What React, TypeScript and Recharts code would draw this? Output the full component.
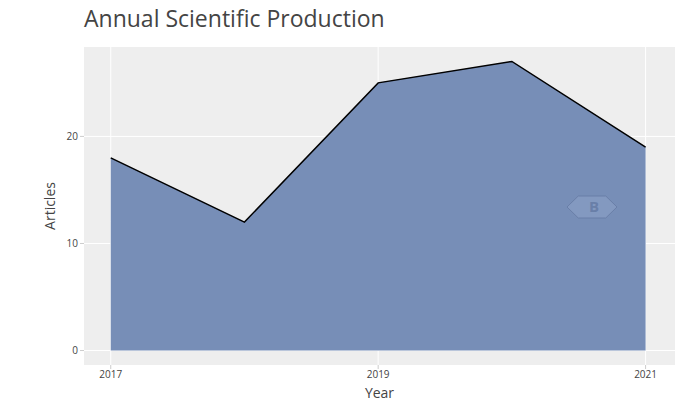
import React from 'react';
import { AreaChart, Area, XAxis, YAxis, CartesianGrid, Label } from 'recharts';

const years = [2017, 2018, 2019, 2020, 2021];
const articles = [18, 12, 25, 27, 19];
const xTicks = [2017, 2019, 2021];
const yTicks = [0, 10, 20];

const data = years.map((y, i) => ({ year: y, articles: articles[i] }));

const Logo = () => {
  const cx = 26, cy = 13;
  const w = 25, h = 11;
  const pts = [
    [cx - w, cy], [cx - w * 0.55, cy - h], [cx + w * 0.55, cy - h],
    [cx + w, cy], [cx + w * 0.55, cy + h], [cx - w * 0.55, cy + h],
  ].map(p => p.join(',')).join(' ');
  return (
    <svg width={52} height={26} style={{ position: 'absolute', left: 566, top: 194, pointerEvents: 'none' }}>
      <g opacity={0.55}>
        <polygon points={pts} fill="#8ea2c8" stroke="#5f739c" strokeWidth={1} />
        <text x={cx + 2} y={cy + 5} textAnchor="middle" fontSize={15} fontWeight="bold" fill="#5f739c" fontFamily="Open Sans">B</text>
      </g>
    </svg>
  );
};

const YTitle = (props: any) => {
  const vb = props.viewBox || { x: 0, y: 47, width: 84, height: 318 };
  const x = vb.x + 55;
  const y = vb.y + vb.height / 2;
  return (
    <text x={x} y={y} transform={`rotate(-90, ${x}, ${y})`} textAnchor="middle" fontSize={14} fill="#444" fontFamily='"Open Sans", sans-serif'>
      Articles
    </text>
  );
};

export default function App() {
  return (
    <div style={{ position: 'absolute', left: 0, top: 0, width: 699, height: 407, background: '#fff' }}>
      <div style={{ position: 'absolute', left: 84, top: 2, fontFamily: '"Open Sans", sans-serif', fontSize: 23, color: '#444', lineHeight: '32px', whiteSpace: 'nowrap' }}>
        Annual Scientific Production
      </div>
      <AreaChart width={699} height={407} data={data} margin={{ top: 47, right: 24, bottom: 0, left: 0 }}>
        <CartesianGrid fill="#eeeeee" stroke="#ffffff" strokeWidth={1} horizontalValues={yTicks} verticalValues={xTicks} />
        <XAxis
          dataKey="year"
          type="number"
          domain={[2016.8, 2021.22]}
          ticks={xTicks}
          allowDataOverflow
          height={42}
          axisLine={false}
          tickSize={4}
          tickMargin={2}
          tickLine={{ stroke: '#cccccc' }}
          tick={{ fontSize: 10, fill: '#444', fontFamily: '"Open Sans", sans-serif' }}
          label={{ value: 'Year', position: 'insideBottom', offset: 9, fontSize: 14, fill: '#444', fontFamily: '"Open Sans", sans-serif' }}
        />
        <YAxis
          type="number"
          domain={[-1.35, 28.35]}
          ticks={yTicks}
          allowDataOverflow
          width={84}
          axisLine={false}
          tickSize={4}
          tickMargin={2}
          tickLine={{ stroke: '#cccccc' }}
          tick={{ fontSize: 10, fill: '#444', fontFamily: '"Open Sans", sans-serif' }}
        >
          <Label content={<YTitle />} />
        </YAxis>
        <Area
          type="linear"
          dataKey="articles"
          baseValue={0}
          stroke="#000000"
          strokeWidth={1.5}
          fill="#778eb7"
          fillOpacity={1}
          isAnimationActive={false}
          dot={false}
          activeDot={false}
        />
      </AreaChart>
      <Logo />
    </div>
  );
}
